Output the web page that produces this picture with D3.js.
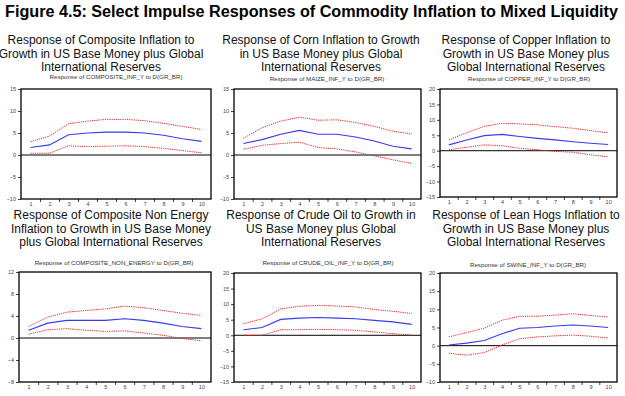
<!DOCTYPE html>
<html>
<head>
<meta charset="utf-8">
<script src="https://cdn.jsdelivr.net/npm/d3@7"></script>
<style>
body { margin: 0; background: #fff; }
svg { display: block; font-family: "Liberation Sans", Arial, sans-serif; }
</style>
</head>
<body>
<svg></svg>
<script>
const width = 625;
const height = 396;
const svg = d3.select("svg").attr("width", width).attr("height", height);

// periods after the shock
const periods = [1, 2, 3, 4, 5, 6, 7, 8, 9, 10];

// composite inflation
const compositeResp = [1.7, 2.3, 4.6, 5.0, 5.2, 5.2, 5.0, 4.5, 3.7, 3.1];
const compositeUpper = [3.0, 4.3, 7.1, 7.7, 8.1, 8.1, 7.8, 7.2, 6.5, 5.8];
const compositeLower = [0.4, 0.4, 2.1, 1.9, 2.0, 2.1, 1.9, 1.5, 1.0, 0.5];

// corn
const cornResp = [2.6, 3.5, 4.7, 5.6, 4.7, 4.7, 4.1, 3.2, 2.0, 1.4];
const cornUpper = [3.8, 6.2, 7.7, 8.6, 7.9, 8.0, 7.4, 6.5, 5.4, 4.8];
const cornLower = [1.3, 2.2, 2.6, 2.9, 1.7, 1.4, 0.7, -0.2, -1.1, -1.9];

// copper
const copperResp = [1.9, 3.5, 4.9, 5.3, 4.6, 4.0, 3.5, 2.9, 2.4, 2.0];
const copperUpper = [3.5, 5.8, 7.9, 8.9, 8.7, 8.4, 7.8, 7.3, 6.5, 5.8];
const copperLower = [0.3, 1.1, 1.9, 1.6, 0.8, 0.3, -0.2, -0.5, -1.3, -2.0];

// composite non energy
const nonEnergyResp = [1.4, 2.7, 3.2, 3.2, 3.2, 3.5, 3.2, 2.7, 2.1, 1.7];
const nonEnergyUpper = [2.1, 3.8, 4.7, 5.0, 5.3, 5.8, 5.5, 5.0, 4.5, 4.1];
const nonEnergyLower = [0.7, 1.5, 1.7, 1.4, 1.2, 1.3, 0.9, 0.5, -0.1, -0.5];

// crude oil
const crudeResp = [1.8, 2.5, 5.1, 5.5, 5.7, 5.5, 5.3, 4.8, 4.3, 3.5];
const crudeUpper = [3.7, 5.3, 8.5, 9.3, 9.6, 9.4, 9.1, 8.3, 7.7, 7.0];
const crudeLower = [0.0, 0.0, 1.8, 1.8, 1.9, 1.8, 1.6, 1.1, 0.5, 0.1];

// lean hogs
const hogsResp = [0.2, 0.7, 1.4, 3.3, 4.8, 5.0, 5.4, 5.7, 5.4, 5.0];
const hogsUpper = [2.4, 3.6, 4.8, 7.0, 8.1, 8.1, 8.4, 8.8, 8.3, 7.9];
const hogsLower = [-2.1, -2.6, -1.9, 0.2, 1.9, 2.4, 2.7, 2.9, 2.6, 2.1];

const yTicks1 = [-10, -5, 0, 5, 10, 15];
const yTicks2 = [-10, -5, 0, 5, 10, 15];
const yTicks3 = [-15, -10, -5, 0, 5, 10, 15, 20];
const yTicks4 = [-8, -4, 0, 4, 8, 12];
const yTicks5 = [-15, -10, -5, 0, 5, 10, 15, 20];
const yTicks6 = [-10, -5, 0, 5, 10, 15, 20];

const title = "Figure 4.5: Select Impulse Responses of Commodity Inflation to Mixed Liquidity";

const panels = [
	{ heading: ["Response of Composite Inflation to", "Growth in US Base Money plus Global", "International Reserves"],
	  sub: "Response of COMPOSITE_INF_Y to D(GR_BR)",
	  resp: compositeResp, upper: compositeUpper, lower: compositeLower, ticks: yTicks1,
	  x0: 21, x1: 211, y0: 89, y1: 199, tx: 101, ty: 44, sx: 116, sy: 79 },
	{ heading: ["Response of Corn Inflation to Growth", "in US Base Money plus Global", "International Reserves"],
	  sub: "Response of MAIZE_INF_Y to D(GR_BR)",
	  resp: cornResp, upper: cornUpper, lower: cornLower, ticks: yTicks2,
	  x0: 234, x1: 421, y0: 89, y1: 199, tx: 321, ty: 44, sx: 327, sy: 81 },
	{ heading: ["Response of Copper Inflation to", "Growth in US Base Money plus", "Global International Reserves"],
	  sub: "Response of COPPER_INF_Y to D(GR_BR)",
	  resp: copperResp, upper: copperUpper, lower: copperLower, ticks: yTicks3,
	  x0: 440, x1: 617, y0: 89, y1: 197, tx: 526, ty: 44, sx: 529, sy: 81 },
	{ heading: ["Response of Composite Non Energy", "Inflation to Growth in US Base Money", "plus Global International Reserves"],
	  sub: "Response of COMPOSITE_NON_ENERGY to D(GR_BR)",
	  resp: nonEnergyResp, upper: nonEnergyUpper, lower: nonEnergyLower, ticks: yTicks4,
	  x0: 19, x1: 211, y0: 272, y1: 382, tx: 111, ty: 219, sx: 114, sy: 265 },
	{ heading: ["Response of Crude Oil to Growth in", "US Base Money plus Global", "International Reserves"],
	  sub: "Response of CRUDE_OIL_INF_Y to D(GR_BR)",
	  resp: crudeResp, upper: crudeUpper, lower: crudeLower, ticks: yTicks5,
	  x0: 234, x1: 421, y0: 273, y1: 382, tx: 321, ty: 219, sx: 328, sy: 265 },
	{ heading: ["Response of Lean Hogs Inflation to", "Growth in US Base Money plus", "Global International Reserves"],
	  sub: "Response of SWINE_INF_Y to D(GR_BR)",
	  resp: hogsResp, upper: hogsUpper, lower: hogsLower, ticks: yTicks6,
	  x0: 440, x1: 617, y0: 273, y1: 382, tx: 526, ty: 219, sx: 528, sy: 267 }
];

svg.append("text")
	.attr("x", 5)
	.attr("y", 17)
	.attr("textLength", 613)
	.attr("lengthAdjust", "spacingAndGlyphs")
	.style("font-size", "16px")
	.style("font-weight", "bold")
	.style("fill", "#000")
	.text(title);

function drawPanel(p) {
	const g = svg.append("g");

	const x = d3.scaleLinear().domain([0.5, 10.5]).range([p.x0, p.x1]);
	const y = d3.scaleLinear().domain([p.ticks[0], p.ticks[p.ticks.length - 1]]).range([p.y1, p.y0]);

	// heading
	g.append("text")
		.attr("text-anchor", "middle")
		.style("font-size", "12px")
		.style("fill", "#111")
		.selectAll("tspan")
		.data(p.heading)
		.join("tspan")
		.attr("x", p.tx)
		.attr("y", (d, i) => p.ty + i * 13.6)
		.text(d => d);

	g.append("text")
		.attr("x", p.sx)
		.attr("y", p.sy)
		.attr("text-anchor", "middle")
		.style("font-size", "6.2px")
		.style("fill", "#333")
		.text(p.sub);

	// y axis
	const ya = g.append("g")
		.attr("transform", `translate(${p.x0},0)`)
		.call(d3.axisLeft(y).tickValues(p.ticks).tickSize(3).tickPadding(2));
	ya.select(".domain").remove();
	ya.selectAll("text").style("font-size", "5.5px").style("fill", "#444").attr("font-family", null);
	ya.selectAll("line").attr("stroke", "#444");

	// x axis labels
	const xa = g.append("g")
		.attr("transform", `translate(0,${p.y1})`)
		.call(d3.axisBottom(x).tickValues(periods).tickSize(0).tickPadding(3));
	xa.select(".domain").remove();
	xa.selectAll("text").style("font-size", "5.5px").style("fill", "#444").attr("font-family", null);

	// x tick marks between periods
	const xm = g.append("g")
		.attr("transform", `translate(0,${p.y1})`)
		.call(d3.axisBottom(x).tickValues(periods.slice(0, 9).map(d => d + 0.5)).tickSize(3).tickFormat(""));
	xm.select(".domain").remove();
	xm.selectAll("line").attr("stroke", "#444");

	// zero line
	g.append("line")
		.attr("x1", p.x0).attr("x2", p.x1)
		.attr("y1", y(0)).attr("y2", y(0))
		.attr("stroke", "#000")
		.attr("stroke-width", 1);

	const line = d3.line()
		.x((d, i) => x(periods[i]))
		.y(d => y(d));

	g.append("path")
		.attr("d", line(p.upper))
		.attr("fill", "none")
		.attr("stroke", "#ee2222")
		.attr("stroke-width", 1)
		.attr("stroke-dasharray", "1.2,1");

	g.append("path")
		.attr("d", line(p.lower))
		.attr("fill", "none")
		.attr("stroke", "#ee2222")
		.attr("stroke-width", 1)
		.attr("stroke-dasharray", "1.2,1");

	g.append("path")
		.attr("d", line(p.resp))
		.attr("fill", "none")
		.attr("stroke", "#3a3af0")
		.attr("stroke-width", 1.1);

	// frame
	g.append("rect")
		.attr("x", p.x0)
		.attr("y", p.y0)
		.attr("width", p.x1 - p.x0)
		.attr("height", p.y1 - p.y0)
		.attr("fill", "none")
		.attr("stroke", "#000")
		.attr("stroke-width", 1.3);
}

panels.forEach(drawPanel);
</script>
</body>
</html>
